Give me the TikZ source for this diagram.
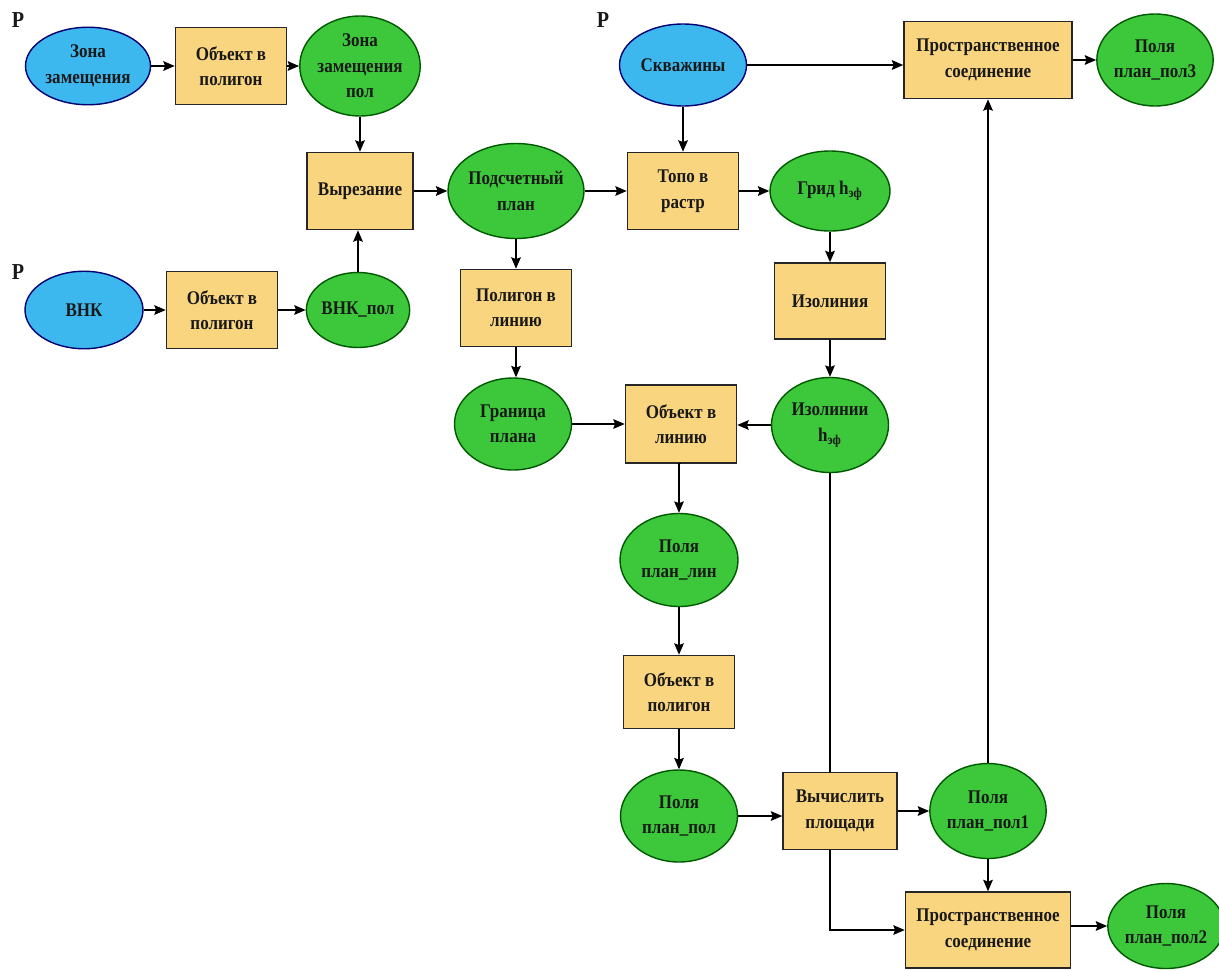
\documentclass[tikz,border=0pt]{standalone}
\usepackage{fontspec}
\setmainfont{Liberation Serif}[FakeStretch=0.88]
\usetikzlibrary{shapes.geometric, arrows.meta}

\definecolor{skyblue}{HTML}{3DB8EF}
\definecolor{leafgreen}{HTML}{3CC83A}
\definecolor{boxyellow}{HTML}{F9D580}

\tikzset{
  every node/.style={font=\bfseries\fontsize{11}{14.5}\selectfont, align=center, text=black!90},
  src/.style={ellipse, draw=blue!45!black, fill=skyblue, minimum width=2.5cm, minimum height=1.55cm, inner sep=0pt},
  res/.style={ellipse, draw=green!35!black, fill=leafgreen, minimum width=2.3cm, minimum height=1.86cm, inner sep=0pt},
  tool/.style={rectangle, draw=black!85, line width=0.9pt, fill=boxyellow, minimum width=2.22cm, minimum height=1.54cm},
  plabel/.style={font=\bfseries\fontsize{13}{15}\selectfont}
}

\begin{document}
\begin{tikzpicture}[>={Stealth[length=6.5pt, width=5.5pt, inset=1pt]}, x=0.02cm, y=-0.02cm, line width=0.8pt]
    \useasboundingbox (0,0) rectangle (1219,970);

    % входные данные
    \node[plabel] (p1) at (18,20) {Р};
    \node[plabel] (p2) at (18,272) {Р};
    \node[plabel] (p3) at (603,20) {Р};
    \node[src] (zona) at (88,66) {Зона\\замещения};
    \node[src, minimum width=2.36cm] (vnk) at (84,310) {ВНК};
    \node[src, minimum width=2.54cm, minimum height=1.64cm] (skv) at (683,65) {Скважины};

    % левая часть
    \node[tool] (obj1) at (231,66) {Объект в\\полигон};
    \node[res, minimum width=2.26cm, minimum height=2cm] (zonapol) at (360,66) {Зона\\замещения\\пол};
    \node[tool, minimum width=2.12cm] (vyrez) at (360,191) {Вырезание};
    \node[tool] (obj2) at (222,310) {Объект в\\полигон};
    \node[res, minimum width=1.9cm, minimum height=1.5cm] (vnkpol) at (358,310) {ВНК\_пол};
    \node[res, minimum width=2.72cm, minimum height=1.9cm] (podsch) at (516,191) {Подсчетный\\план};

    % средняя часть
    \node[tool] (topo) at (683,191) {Топо в\\растр};
    \node[res, minimum width=2.4cm, minimum height=1.6cm] (grid) at (830,191) {Грид h\textsubscript{эф}};
    \node[tool, minimum height=1.52cm] (izolinia) at (830,301) {Изолиния};
    \node[res, minimum width=2.34cm, minimum height=1.9cm] (izolinii) at (830,425) {Изолинии\\h\textsubscript{эф}};
    \node[tool] (polyline) at (516,308) {Полигон в\\линию};
    \node[res, minimum width=2.34cm, minimum height=1.84cm] (granica) at (513,424) {Граница\\плана};
    \node[tool, minimum height=1.56cm] (objline) at (681,424) {Объект в\\линию};
    \node[res, minimum width=2.36cm, minimum height=1.86cm] (pollin) at (679,560) {Поля\\план\_лин};
    \node[tool, minimum height=1.46cm] (obj3) at (679,692) {Объект в\\полигон};
    \node[res, minimum width=2.34cm, minimum height=1.84cm] (polpol) at (679,816) {Поля\\план\_пол};

    % правая часть
    \node[tool, minimum width=2.28cm] (calc) at (840,811) {Вычислить\\площади};
    \node[res, minimum width=2.2cm, minimum height=1.9cm] (pole1) at (988,811) {Поля\\план\_пол1};
    \node[tool, minimum width=3.36cm] (join3) at (988,60) {Пространственное\\соединение};
    \node[res, minimum width=2cm, minimum height=1.84cm] (pole3) at (1155,60) {Поля\\план\_пол3};
    \node[tool, minimum width=3.3cm, minimum height=1.52cm] (join2) at (988,930) {Пространственное\\соединение};
    \node[res, minimum width=1.94cm, minimum height=1.7cm] (pole2) at (1166,926) {Поля\\план\_пол2};

    % связи
    \draw[->] (zona) -- (obj1);
    \draw[->] (obj1) -- (zonapol);
    \draw[->] (zonapol) -- (vyrez);
    \draw[->] (vnk) -- (obj2);
    \draw[->] (obj2) -- (vnkpol);
    \draw[->] (vnkpol.north) -- (vnkpol.north |- vyrez.south);
    \draw[->] (vyrez) -- (podsch);
    \draw[->] (podsch) -- (topo);
    \draw[->] (skv) -- (topo);
    \draw[->] (topo) -- (grid);
    \draw[->] (skv) -- (skv -| join3.west);
    \draw[->] (join3) -- (pole3);
    \draw[->] (grid) -- (izolinia);
    \draw[->] (izolinia) -- (izolinii);
    \draw[->] (podsch) -- (polyline);
    \draw[->] (polyline.south) -- (polyline.south |- granica.north);
    \draw[->] (granica) -- (objline);
    \draw[->] (izolinii) -- (izolinii -| objline.east);
    \draw[->] (objline.south) -- (objline.south -| pollin.north) -- (pollin);
    \draw[->] (pollin) -- (obj3);
    \draw[->] (obj3) -- (polpol);
    \draw[->] (polpol) -- (polpol -| calc.west);
    \draw[->] (calc) -- (pole1);
    \draw[->] (pole1) -- (join3);
    \draw[->] (pole1) -- (join2);
    \draw[->] (join2.east |- pole2) -- (pole2);
    \draw (izolinii.south) -- (izolinii.south |- calc.north);
    \draw[->] (izolinii.south |- calc.south) |- (join2.west);
\end{tikzpicture}
\end{document}
